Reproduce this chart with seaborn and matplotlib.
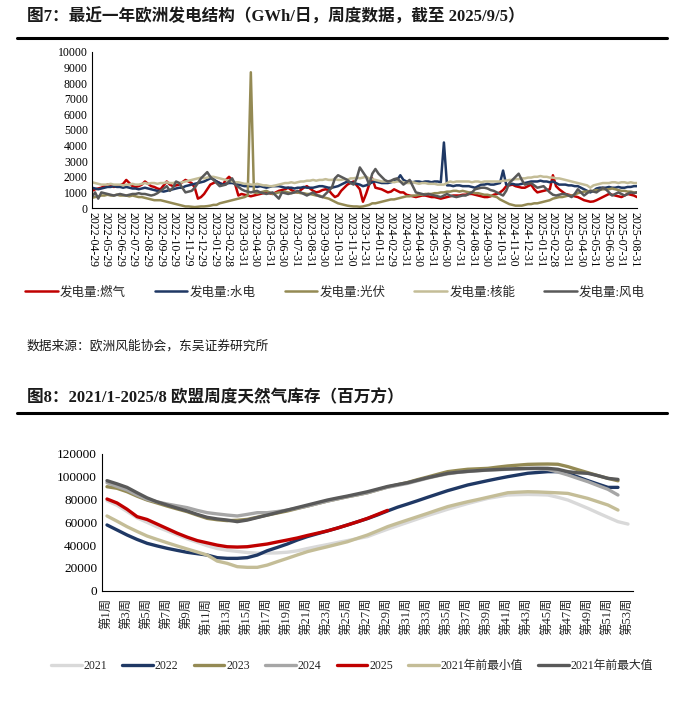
import numpy as np
import pandas as pd
import matplotlib
matplotlib.use('Agg')
import matplotlib.pyplot as plt
from matplotlib.lines import Line2D
import seaborn as sns

# ---- fig 7: weekly generation (GWh/day), weeks from 2022-04-29 ----
gen_names = ['发电量:燃气', '发电量:水电', '发电量:光伏', '发电量:核能', '发电量:风电']
gen_colors = ['#C00000', '#1F3864', '#948A54', '#C4BD97', '#595959']

gas_gen = [1100,1200,1250,1300,1400,1500,1450,1350,1400,1450,
           1550,1800,1600,1400,1350,1400,1500,1700,1550,1400,
           1350,1250,1200,1450,1700,1500,1400,1450,1500,1650,
           1800,1700,1600,1300,600,700,900,1200,1500,1600,
           1700,1600,1500,1800,2000,1800,1500,800,900,850,
           800,750,800,850,900,950,1000,950,900,1000,
           1100,1150,1200,1300,1150,1050,1000,1150,1300,1400,
           1250,1100,1000,1050,1150,1200,1150,900,700,800,
           1100,1300,1500,1600,1700,1450,1200,400,900,1500,
           1900,1300,1250,1200,1100,1000,1050,1200,1100,1000,
           1000,850,800,750,700,750,800,800,750,700,
           700,650,600,650,700,750,800,800,800,850,
           850,900,900,850,800,750,700,700,750,850,
           900,1000,1150,1400,1450,1500,1400,1350,1300,1300,
           1400,1500,1200,1000,1050,1100,1150,1200,2100,1400,
           1200,1050,900,850,800,750,700,600,500,450,
           400,420,500,600,700,800,900,850,800,750,
           700,800,900,850,800,700]

hydro_gen = [1300,1250,1200,1250,1300,1350,1350,1400,1350,1350,
             1300,1350,1300,1250,1250,1200,1250,1300,1250,1200,
             1150,1100,1100,1050,1100,1150,1200,1250,1300,1300,
             1400,1450,1500,1550,1600,1650,1700,1800,1900,1850,
             1700,1600,1500,1550,1600,1600,1550,1500,1450,1400,
             1400,1400,1400,1350,1400,1350,1300,1350,1400,1400,
             1400,1350,1300,1300,1300,1250,1300,1300,1350,1300,
             1300,1300,1350,1400,1400,1350,1300,1300,1350,1400,
             1500,1600,1700,1650,1600,1550,1500,1400,1450,1550,
             1650,1700,1650,1600,1600,1600,1650,1700,1800,2100,
             1800,1700,1700,1650,1700,1700,1650,1700,1700,1650,
             1700,1700,1650,4200,1450,1450,1400,1450,1450,1400,
             1400,1400,1350,1300,1400,1500,1500,1550,1500,1500,
             1550,1600,2400,1500,1500,1550,1500,1500,1550,1600,
             1650,1700,1700,1700,1750,1700,1700,1650,1700,1600,
             1500,1500,1500,1450,1450,1400,1400,1300,1200,1100,
             1000,1100,1250,1300,1300,1300,1350,1300,1300,1350,
             1300,1300,1350,1350,1400,1400]

solar_gen = [650,700,750,800,800,850,800,800,850,800,
             800,800,750,800,750,700,700,650,600,550,
             500,500,500,450,400,350,300,250,200,150,
             100,100,80,60,80,100,100,120,150,200,
             200,300,350,400,450,500,550,600,650,700,
             800,8700,1000,950,1000,1050,1100,1000,900,950,
             1000,1000,1050,1000,950,1000,1000,950,950,900,
             900,850,800,800,700,650,600,500,400,300,
             250,200,150,120,100,100,80,100,150,200,
             300,300,350,400,450,500,550,550,600,650,
             700,750,750,800,800,850,850,900,900,900,
             950,950,1000,1000,1050,1050,1100,1100,1050,1100,
             1050,1000,1000,950,950,900,850,850,800,750,
             700,550,450,350,250,200,150,150,150,200,
             250,250,300,300,350,400,450,500,600,650,
             700,700,750,800,800,850,950,1000,1050,1050,
             1100,1100,1150,1150,1200,1200,1200,1250,1200,1150,
             1100,1100,1050,1050,1000,1000]

nuclear_gen = [1650,1600,1550,1500,1500,1500,1550,1500,1500,1500,
               1450,1500,1500,1550,1500,1500,1550,1600,1550,1600,
               1600,1550,1600,1600,1650,1600,1600,1650,1600,1650,
               1700,1750,1800,1850,1900,1950,1900,1950,2000,2000,
               1950,1900,1850,1800,1750,1700,1650,1650,1600,1550,
               1550,1500,1500,1550,1500,1450,1450,1400,1400,1450,
               1500,1550,1600,1600,1650,1600,1650,1700,1700,1750,
               1750,1800,1750,1800,1800,1850,1800,1800,1850,1800,
               1800,1850,1800,1900,1900,1950,1900,1950,2000,1900,
               1850,1800,1750,1700,1700,1700,1700,1650,1700,1700,
               1650,1600,1600,1650,1600,1550,1600,1600,1550,1550,
               1550,1500,1500,1500,1600,1700,1650,1700,1700,1700,
               1700,1700,1650,1700,1700,1650,1700,1700,1700,1700,
               1700,1700,1750,1750,1800,1800,1850,1850,1900,1900,
               1950,1950,2000,2000,2050,2000,2000,1950,1950,1900,
               1900,1850,1800,1750,1700,1650,1600,1550,1500,1450,
               1300,1450,1500,1550,1600,1600,1600,1650,1650,1600,
               1650,1650,1600,1650,1600,1600]

wind_gen = [700,1000,600,1000,950,900,850,800,850,900,
            850,800,850,900,900,950,900,900,850,800,
            850,950,1100,1250,1400,1100,1300,1700,1600,1300,
            1000,1050,1100,1300,1600,1900,2100,2300,2000,1800,
            1600,1400,1450,1500,1700,1900,1500,1350,1200,1100,
            1050,1000,1050,1100,1000,950,900,950,1000,800,
            600,1000,950,900,950,1000,1100,1000,900,800,
            900,1000,850,750,700,900,1100,1300,1900,2100,
            2000,1900,1800,1600,1500,1900,2600,2300,2000,1500,
            2200,2500,2200,2000,1800,1700,1750,1850,1900,1700,
            1500,1650,1800,1400,1000,950,900,850,900,850,
            800,750,700,800,900,800,750,700,750,800,
            800,900,1000,1200,1250,1300,1300,1250,1150,1100,
            1000,900,800,1100,1600,1800,2000,2200,1800,1500,
            1550,1600,1450,1300,1350,1400,1200,1000,850,800,
            850,900,900,800,700,900,1200,1000,800,950,
            1100,1050,1000,1150,1300,1200,1000,800,900,1000,
            900,800,900,1000,950,1000]

gen_tick_labels = ['2022-04-29','2022-05-29','2022-06-29','2022-07-29','2022-08-29',
                   '2022-09-29','2022-10-29','2022-11-29','2022-12-29','2023-01-29',
                   '2023-02-28','2023-03-31','2023-04-30','2023-05-31','2023-06-30',
                   '2023-07-31','2023-08-31','2023-09-30','2023-10-31','2023-11-30',
                   '2023-12-31','2024-01-31','2024-02-29','2024-03-31','2024-04-30',
                   '2024-05-31','2024-06-30','2024-07-31','2024-08-31','2024-09-30',
                   '2024-10-31','2024-11-30','2024-12-31','2025-01-31','2025-02-28',
                   '2025-03-31','2025-04-30','2025-05-31','2025-06-30','2025-07-31',
                   '2025-08-31']

# ---- fig 8: EU weekly gas storage (mcm), week 1..53 ----
stor_names = ['2021', '2022', '2023', '2024', '2025', '2021年前最小值', '2021年前最大值']
stor_colors = ['#D9D9D9', '#1F3864', '#948A54', '#A6A6A6', '#C00000', '#C4BD97', '#595959']

s2021 = [79000,75000,69500,64000,60000,56000,52500,49000,45500,42500,
         39500,37000,35500,34500,33500,33000,33000,33200,33800,35000,
         37000,38800,40500,42300,44000,45700,47500,50800,54000,57000,
         60000,63000,66000,68700,71500,74000,76500,78800,81000,82500,
         84000,84300,84500,84300,84000,82000,79600,76000,72300,68300,
         64400,60600,58500]
s2022 = [57700,53300,48900,45000,41600,39300,37200,35400,33700,32500,
         31300,29000,28400,28400,29000,31300,35100,38000,41000,44500,
         47500,50000,52500,55000,57700,60500,63300,66500,70000,73300,
         76100,79000,82000,84900,87800,90300,92800,94700,96600,98400,
         100100,101600,103100,103800,104500,104500,103000,99800,96600,93600,
         90700,90700]
s2023 = [91300,89900,86900,83000,79600,77000,74300,71800,69400,66400,
         63500,62300,61500,61800,62600,64500,66400,68200,70000,72200,
         74300,76500,78700,80600,82500,84200,86000,88500,91000,93000,
         95000,97500,99800,102200,104500,105600,106600,107000,107400,108500,
         109500,110200,110900,111100,111200,111000,108900,106200,103600,101000,
         98600,96500]
s2024 = [94800,91500,88400,84000,80200,78000,76100,74500,72900,70500,
         68500,67400,66400,65600,67000,68500,68500,69500,70800,72500,
         74300,76500,78700,80600,82500,84200,86000,88500,90800,92500,
         94200,96500,98800,100800,102600,103800,104600,105300,105800,106200,
         106600,106900,107100,107000,106400,104200,101600,98600,95700,92300,
         89000,84000]
s2025 = [80500,77000,71500,65000,62500,58500,54500,50500,47000,44000,
         42000,40000,38600,38300,38600,39800,41000,42800,44500,46300,
         48500,50500,52500,55000,57700,60500,63500,67000,70500]
smin = [65600,61000,56200,52000,48000,45000,42100,39300,36600,34000,
        31300,26000,24000,21100,20500,20500,22500,25500,28400,31400,
        34300,36500,38600,40800,43000,46000,48900,52500,56200,59200,
        62100,65000,67900,70900,73800,76000,78100,80000,82000,84000,
        86000,86500,86900,86700,86300,85900,85400,83200,81000,78100,
        75200,70800]
smax = [96600,93800,90700,86000,81500,78000,75200,72500,70000,67000,
        64400,63000,62000,60600,62000,64200,66400,68600,70800,73000,
        75200,77400,79600,81400,83100,85000,86900,89200,91500,93200,
        94800,97000,99200,101100,103000,104000,104800,105400,106000,106400,
        106800,107100,107400,107500,107400,106600,104500,103500,103000,101000,
        98600,97700]

week_nums = list(range(1, 54))
week_tick_labels = ['第%d周' % w for w in range(1, 54, 2)]

sns.set_style('white')
plt.rcParams['font.family'] = ['Liberation Serif', 'Noto Sans CJK SC', 'DejaVu Sans']
plt.rcParams['axes.unicode_minus'] = False

W, H = 684, 711
fig = plt.figure(figsize=(W / 100, H / 100), dpi=100)

def fx(px):
	return px / W

def fy(py):
	return 1 - py / H

# titles, rules, source
fig.text(fx(27), fy(17), '图7：最近一年欧洲发电结构（GWh/日，周度数据，截至 2025/9/5）',
         fontsize=12, fontweight='bold', va='center', ha='left', color='#1a1a1a')
fig.add_artist(Line2D([fx(17), fx(667)], [fy(38), fy(38)], color='black', lw=2.2))
fig.text(fx(27), fy(346), '数据来源：欧洲风能协会，东吴证券研究所',
         fontsize=9.2, va='center', ha='left', color='#1a1a1a')
fig.text(fx(27), fy(398), '图8：2021/1-2025/8 欧盟周度天然气库存（百万方）',
         fontsize=12, fontweight='bold', va='center', ha='left', color='#1a1a1a')
fig.add_artist(Line2D([fx(17), fx(667)], [fy(413), fy(413)], color='black', lw=2.2))

# ---- top chart ----
ax1 = fig.add_axes([fx(92), fy(208), fx(637 - 92), (208 - 52) / H])
weeks = pd.date_range('2022-04-29', periods=len(gas_gen), freq='7D')
gen_df = pd.concat([pd.DataFrame({'date': weeks, 'value': v, 'series': n})
                    for n, v in zip(gen_names, [gas_gen, hydro_gen, solar_gen, nuclear_gen, wind_gen])],
                   ignore_index=True)
sns.lineplot(data=gen_df, x='date', y='value', hue='series', hue_order=gen_names,
             palette=gen_colors, linewidth=1.8, errorbar=None, legend=False, ax=ax1)
ax1.set_xlim(weeks[0], weeks[-1])
ax1.set_ylim(0, 10000)
ax1.set_yticks(range(0, 10001, 1000))
ax1.set_xticks(pd.to_datetime(gen_tick_labels))
ax1.set_xticklabels(gen_tick_labels, rotation=-90, fontsize=8.5)
ax1.tick_params(axis='y', labelsize=8.5)
ax1.tick_params(direction='in', length=3, width=0.8, colors='black', pad=3)
ax1.set_xlabel('')
ax1.set_ylabel('')
sns.despine(ax=ax1)
for s in ['left', 'bottom']:
	ax1.spines[s].set_color('black')
	ax1.spines[s].set_linewidth(0.8)

fig.legend(ax1.get_lines()[:5], gen_names, loc='center', bbox_to_anchor=(fx(335), fy(292)),
           ncol=5, frameon=False, fontsize=9, handlelength=2.6, handletextpad=0.2,
           columnspacing=2.3)

# ---- bottom chart ----
ax2 = fig.add_axes([fx(102), fy(590.7), fx(633 - 102), (590.7 - 454) / H])
stor_vals = [s2021, s2022, s2023, s2024, s2025, smin, smax]
stor_df = pd.concat([pd.DataFrame({'week': week_nums,
                                   'value': v + [np.nan] * (53 - len(v)),
                                   'series': n})
                     for n, v in zip(stor_names, stor_vals)], ignore_index=True)
sns.lineplot(data=stor_df, x='week', y='value', hue='series', hue_order=stor_names,
             palette=stor_colors, linewidth=2.4, errorbar=None, legend=False, ax=ax2)
ax2.set_xlim(0.5, 53.5)
ax2.set_ylim(0, 120000)
ax2.set_yticks(range(0, 120001, 20000))
ax2.set_xticks(range(1, 54, 2))
ax2.set_xticklabels(week_tick_labels, rotation=90, fontsize=9)
ax2.set_xticks(np.arange(0.5, 54, 1), minor=True)
ax2.tick_params(axis='x', which='major', length=0, pad=5)
ax2.tick_params(axis='x', which='minor', direction='in', length=3, width=0.8, color='black')
ax2.tick_params(axis='y', direction='in', length=3, width=0.8, labelsize=9.5, colors='black')
ax2.set_xlabel('')
ax2.set_ylabel('')
sns.despine(ax=ax2)
for s in ['left', 'bottom']:
	ax2.spines[s].set_color('black')
	ax2.spines[s].set_linewidth(0.8)

fig.legend(ax2.get_lines()[:7], stor_names, loc='center', bbox_to_anchor=(fx(352), fy(666)),
           ncol=7, frameon=False, fontsize=8.5, handlelength=2.6, handletextpad=0.15,
           columnspacing=1.3)

fig.savefig('out.png', dpi=100)
